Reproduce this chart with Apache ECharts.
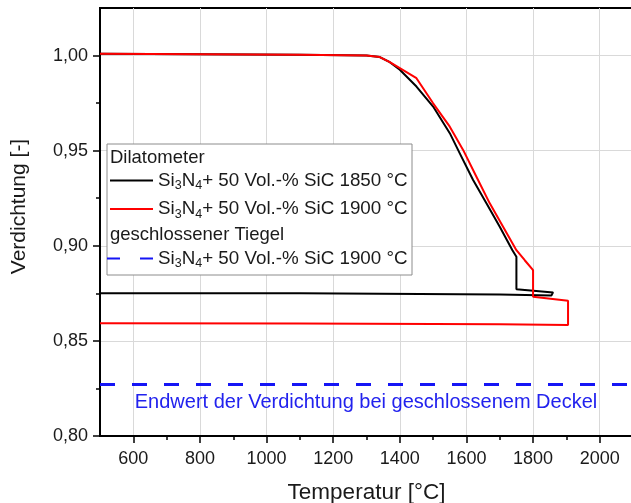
<!DOCTYPE html>
<html><head><meta charset="utf-8">
<script src="https://cdn.jsdelivr.net/npm/echarts@6/dist/echarts.min.js"></script>
<style>html,body{margin:0;padding:0;background:#fff}#c{width:631px;height:503px}</style>
</head><body><div id="c"></div>
<script>
// ---- data ----
const xTicks = [600, 800, 1000, 1200, 1400, 1600, 1800, 2000];
const xMinorTicks = [700, 900, 1100, 1300, 1500, 1700, 1900];
const yTicks = [0.80, 0.85, 0.90, 0.95, 1.00];
const yMinorTicks = [0.825, 0.875, 0.925, 0.975];

const temp1850 = [500, 800, 1100, 1300, 1340, 1370, 1400, 1450, 1500, 1550, 1580, 1620, 1660, 1700, 1738, 1750, 1750, 1860, 1855, 1700, 1100, 500];
const dens1850 = [1.0009, 1.0007, 1.0004, 1.0000, 0.9992, 0.9965, 0.9925, 0.9837, 0.9732, 0.9592, 0.9486, 0.9346, 0.9223, 0.9100, 0.8977, 0.8942, 0.8771, 0.8755, 0.8739, 0.8744, 0.8750, 0.8751];

const temp1900 = [500, 800, 1100, 1300, 1340, 1370, 1400, 1450, 1500, 1550, 1590, 1630, 1670, 1710, 1750, 1775, 1800, 1800, 1905, 1905, 1700, 1100, 500];
const dens1900 = [1.0009, 1.0007, 1.0004, 1.0000, 0.9992, 0.9965, 0.9934, 0.9881, 0.9749, 0.9626, 0.9504, 0.9363, 0.9223, 0.9100, 0.8977, 0.8924, 0.8872, 0.8732, 0.8711, 0.8583, 0.8588, 0.8592, 0.8593];

const tiegelTemp = [500, 2100];
const tiegelDens = [0.8271, 0.8271];

const legendLabels = {
  d1850: 'Si|3|N|4|+ 50 Vol.-% SiC 1850 °C',
  d1900: 'Si|3|N|4|+ 50 Vol.-% SiC 1900 °C',
  t1900: 'Si|3|N|4|+ 50 Vol.-% SiC 1900 °C'
};
const headDilatometer = 'Dilatometer';
const headTiegel = 'geschlossener Tiegel';
const noteText = 'Endwert der Verdichtung bei geschlossenem Deckel';

// ---- helpers ----
const zip = (a, b) => a.map((v, i) => [v, b[i]]);
const FONT = 'Liberation Sans, Arial, sans-serif';
function richName(name) {
  const p = legendLabels[name].split('|');
  return '{m|' + p[0] + '}{s|' + p[1] + '}{m|' + p[2] + '}{s|' + p[3] + '}{m|' + p[4] + '}';
}
const legendRich = {
  m: { fontSize: 18.8, fontFamily: FONT, color: '#1a1a1a', lineHeight: 24 },
  s: { fontSize: 12.5, fontFamily: FONT, color: '#1a1a1a', verticalAlign: 'bottom' }
};
const xRange = { min: 500, max: 2100 };
const yRange = { min: 0.80, max: 1.025 };
const hiddenSym = { color: 'transparent', borderWidth: 0, opacity: 0 };

const chart = echarts.init(document.getElementById('c'), null, { renderer: 'canvas' });
chart.setOption({
  animation: false,
  backgroundColor: '#fff',
  grid: { left: 100, right: -2, top: 8, bottom: 67, outerBoundsMode: 'none', containLabel: false,
    show: true, borderColor: '#000', borderWidth: 2, backgroundColor: 'transparent' },
  xAxis: [{
    type: 'value', ...xRange, interval: 100,
    name: 'Temperatur [°C]', nameLocation: 'middle', nameGap: 45,
    nameTextStyle: { fontSize: 22.5, fontFamily: FONT, color: '#1a1a1a' },
    axisLine: { show: true, lineStyle: { color: '#000', width: 2 } },
    axisTick: { show: true, customValues: xTicks, length: 7, lineStyle: { color: '#000', width: 1.5 } },
    axisLabel: { customValues: xTicks, fontSize: 18, fontFamily: FONT, color: '#1a1a1a', margin: 14,
      formatter: v => String(v) },
    splitLine: { show: true, lineStyle: { color: '#d9d9d9', width: 1 } }
  }, {
    type: 'value', ...xRange, interval: 100, position: 'bottom',
    axisLine: { show: false },
    axisTick: { show: true, customValues: xMinorTicks, length: 4, lineStyle: { color: '#000', width: 1.5 } },
    axisLabel: { show: false },
    splitLine: { show: false }
  }],
  yAxis: [{
    type: 'value', ...yRange, interval: 0.05,
    name: 'Verdichtung [-]', nameLocation: 'middle', nameGap: 70,
    nameTextStyle: { fontSize: 21, fontFamily: FONT, color: '#1a1a1a', padding: [0, 0, 0, 31] },
    axisLine: { show: true, lineStyle: { color: '#000', width: 2 } },
    axisTick: { show: true, customValues: yTicks, length: 7, lineStyle: { color: '#000', width: 1.5 } },
    axisLabel: { customValues: yTicks, fontSize: 18, fontFamily: FONT, color: '#1a1a1a', margin: 12,
      formatter: v => v.toFixed(2).replace('.', ',') },
    splitLine: { show: true, lineStyle: { color: '#d9d9d9', width: 1 } }
  }, {
    type: 'value', ...yRange, interval: 0.05, position: 'left',
    axisLine: { show: false },
    axisTick: { show: true, customValues: yMinorTicks, length: 4, lineStyle: { color: '#000', width: 1.5 } },
    axisLabel: { show: false },
    splitLine: { show: false }
  }],
  legend: [{
    data: ['d1850', 'd1900'], orient: 'vertical', left: 109, top: 171, padding: 0,
    itemWidth: 43, itemHeight: 14, itemGap: 7, z: 6, itemStyle: hiddenSym,
    formatter: richName, textStyle: { rich: legendRich }
  }, {
    data: [{ name: 't1900', lineStyle: { type: [13, 20] } }], orient: 'vertical', left: 106, top: 249, padding: 0,
    itemWidth: 46, itemHeight: 14, itemGap: 5, z: 6, itemStyle: hiddenSym,
    formatter: richName, textStyle: { rich: legendRich }
  }],
  graphic: [
    { type: 'rect', z: 5, shape: { x: 107, y: 144, width: 305, height: 131 }, style: { fill: '#fff', stroke: '#8c8c8c', lineWidth: 1 } },
    { type: 'text', z: 7, x: 110, y: 158, style: { text: headDilatometer, font: '18.5px ' + FONT, fill: '#1a1a1a', textVerticalAlign: 'middle' } },
    { type: 'text', z: 7, x: 110, y: 235, style: { text: headTiegel, font: '18.5px ' + FONT, fill: '#1a1a1a', textVerticalAlign: 'middle' } },
    { type: 'text', z: 7, x: 366, y: 402, style: { text: noteText, font: '20px ' + FONT, fill: '#2222ee', textAlign: 'center', textVerticalAlign: 'middle' } }
  ],
  series: [{
    name: 'd1850', type: 'line', data: zip(temp1850, dens1850), showSymbol: false, symbol: 'none',
    lineStyle: { color: '#000', width: 2 }, itemStyle: { color: '#000' }, z: 3
  }, {
    name: 'd1900', type: 'line', data: zip(temp1900, dens1900), showSymbol: false, symbol: 'none',
    lineStyle: { color: '#ff0000', width: 2 }, itemStyle: { color: '#ff0000' }, z: 4
  }, {
    name: 't1900', type: 'line', data: zip(tiegelTemp, tiegelDens), showSymbol: false, symbol: 'none',
    lineStyle: { color: '#1515f5', width: 3, type: [15, 17] }, itemStyle: { color: '#1515f5' }, z: 3
  }]
});
</script>
</body></html>
